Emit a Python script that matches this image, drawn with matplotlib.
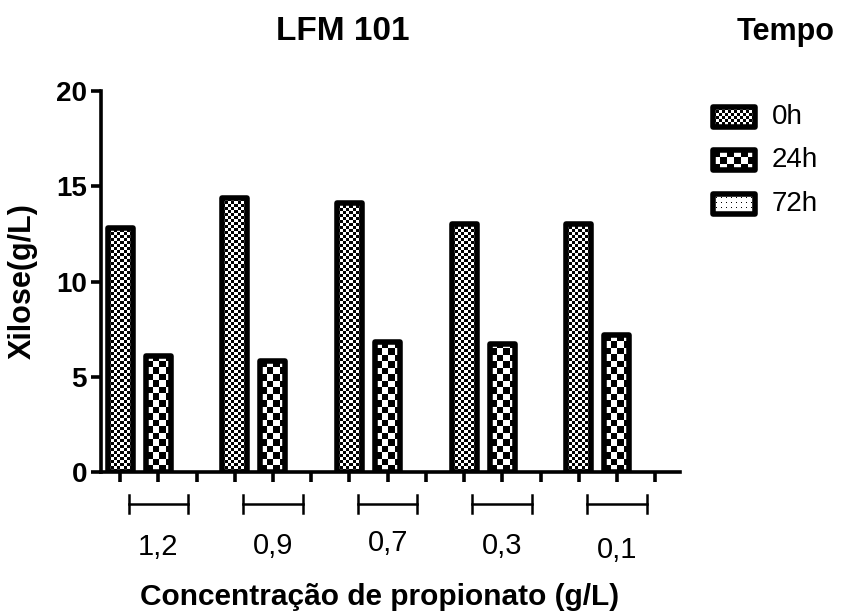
import numpy as np
import matplotlib
matplotlib.use("Agg")
import matplotlib.pyplot as plt
from matplotlib.patches import Rectangle
from matplotlib.transforms import blended_transform_factory

plt.rcParams['font.family'] = ['Liberation Sans', 'DejaVu Sans']

# ---------------- data ----------------
groups = ['1,2', '0,9', '0,7', '0,3', '0,1']
series = ['0h', '24h', '72h']
xilose_0h = [12.8, 14.4, 14.1, 13.0, 13.0]
xilose_24h = [6.1, 5.85, 6.8, 6.7, 7.2]
xilose_72h = [np.nan, np.nan, np.nan, np.nan, np.nan]
values = [xilose_0h, xilose_24h, xilose_72h]
yticks = [0, 5, 10, 15, 20]
title = 'LFM 101'
legend_title = 'Tempo'
xlabel = 'Concentração de propionato (g/L)'
ylabel = 'Xilose(g/L)'

# ---------------- style ----------------
W, H = 842, 615
DPI = 100
fig = plt.figure(figsize=(W / DPI, H / DPI), dpi=DPI)
ax = fig.add_axes([101 / W, 1 - 472 / H, (680 - 101) / W, (472 - 91) / H])
nser = len(series)
XLIM = (-0.5, len(groups) * nser - 0.35)
ax.set_xlim(*XLIM)
ax.set_ylim(0, 20)
bar_w = 0.655
lw_bar = 4
pattern_px = [3, 6.5, None]          # checker square size per series (pixels)


def checker(nr, nc):
    return (np.add.outer(np.arange(nr), np.arange(nc)) % 2).astype(float)


fig.canvas.draw()
px_x = ax.bbox.width / (XLIM[1] - XLIM[0])
px_y = ax.bbox.height / 20.0

for si, vals in enumerate(values):
    xs = np.arange(len(groups)) * nser + si
    bars = ax.bar(xs, vals, width=bar_w, facecolor='none', edgecolor='black',
                  linewidth=lw_bar, zorder=3)
    for b, v in zip(bars, vals):
        b.set_joinstyle('round')
        if np.isnan(v) or pattern_px[si] is None:
            continue
        s = pattern_px[si]
        x0 = b.get_x()
        ncol = int(np.ceil(bar_w * px_x / s)) + 1
        nrow = int(np.ceil(v * px_y / s)) + 1
        arr = checker(nrow, ncol)
        im = ax.imshow(arr, cmap='gray', vmin=0, vmax=1, interpolation='nearest',
                       extent=(x0, x0 + ncol * s / px_x, 0, nrow * s / px_y),
                       origin='lower', aspect='auto', zorder=2)
        im.set_clip_path(b)

ax.set_xlim(*XLIM)
ax.set_ylim(0, 20)

# axes styling
for sp in ['top', 'right']:
    ax.spines[sp].set_visible(False)
for sp in ['left', 'bottom']:
    ax.spines[sp].set_linewidth(2.6)
    ax.spines[sp].set_zorder(4)
ax.set_xticks(np.arange(len(groups) * nser))
ax.set_xticklabels([])
ax.set_yticks(yticks)
ax.set_yticklabels([str(t) for t in yticks], fontsize=20, fontweight='bold')
ax.tick_params(axis='both', direction='out', length=7, width=2.6, pad=3)

# group brackets below the axis
tr = blended_transform_factory(ax.transData, ax.transAxes)
half = 0.78
label_dy = [0, 0.004, 0.012, 0.004, -0.008]
for gi, g in enumerate(groups):
    c = gi * nser + 1
    ax.plot([c - half, c + half], [-0.083, -0.083], color='black', lw=1.8,
            transform=tr, clip_on=False)
    for e in (c - half, c + half):
        ax.plot([e, e], [-0.06, -0.107], color='black', lw=1.8,
                transform=tr, clip_on=False)
    ax.text(c, -0.198 + label_dy[gi], g, transform=tr, ha='center', va='center',
            fontsize=21)

# titles and labels
fig.text(343 / W, 1 - 32 / H, title, ha='center', va='center', fontsize=24,
         fontweight='bold')
fig.text(737 / W, 1 - 32 / H, legend_title, ha='left', va='center', fontsize=22,
         fontweight='bold')
fig.text(380 / W, 1 - 597 / H, xlabel, ha='center', va='center', fontsize=21.5,
         fontweight='bold')
fig.text(23 / W, 1 - 281 / H, ylabel, ha='center', va='center', fontsize=22,
         fontweight='bold', rotation=90)

# legend (drawn in pixel overlay)
lax = fig.add_axes([0, 0, 1, 1])
lax.set_xlim(0, W)
lax.set_ylim(H, 0)
lax.axis('off')
row_y = [117, 160, 204]
sw_x, sw_w, sw_h = 713, 42, 20
for si, name in enumerate(series):
    cy = row_y[si]
    rect = Rectangle((sw_x, cy - sw_h / 2), sw_w, sw_h, facecolor='none',
                     edgecolor='black', linewidth=lw_bar, zorder=3)
    rect.set_joinstyle('round')
    lax.add_patch(rect)
    if si < 2:
        s = pattern_px[si] if si == 0 else 7
        nc = int(np.ceil(sw_w / s)) + 1
        nr = int(np.ceil(sw_h / s)) + 1
        arr = checker(nr, nc)
        ext = (sw_x, sw_x + nc * s, cy - sw_h / 2 + nr * s, cy - sw_h / 2)
    else:
        nc = int(np.ceil(sw_w))
        nr = int(np.ceil(sw_h))
        arr = np.ones((nr, nc))
        arr[3::5, 3::5] = 0
        ext = (sw_x, sw_x + nc, cy - sw_h / 2 + nr, cy - sw_h / 2)
    im = lax.imshow(arr, cmap='gray', vmin=0, vmax=1, interpolation='nearest',
                    extent=ext, aspect='auto', zorder=2)
    im.set_clip_path(rect)
    lax.text(772, cy, name, ha='left', va='center', fontsize=20)
lax.set_xlim(0, W)
lax.set_ylim(H, 0)

fig.savefig('out.png', dpi=DPI)
